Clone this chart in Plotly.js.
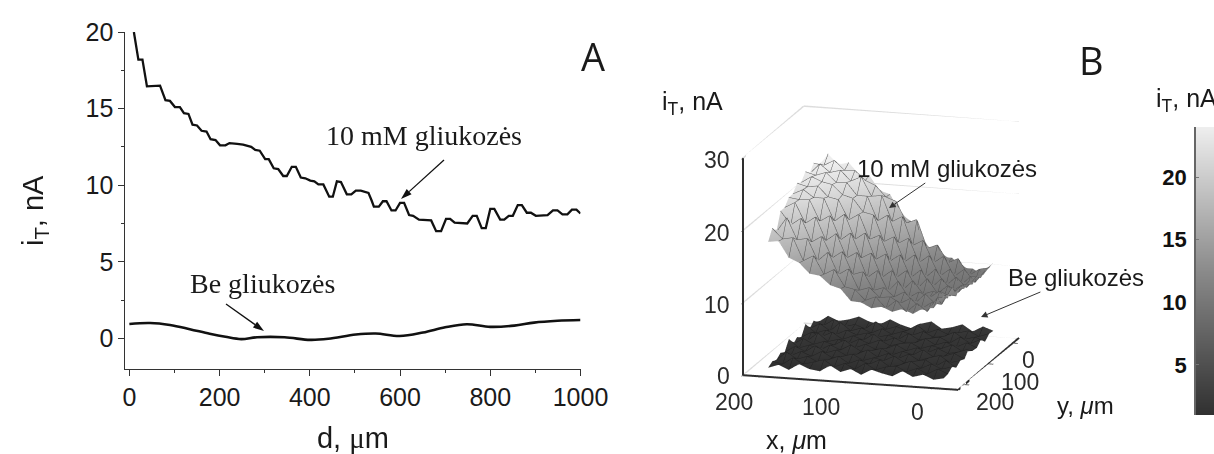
<!DOCTYPE html>
<html>
<head>
<meta charset="utf-8">
<script src="https://cdn.plot.ly/plotly-3.0.1.min.js"></script>
<style>html,body{margin:0;padding:0;background:#fff;overflow:hidden}</style>
</head>
<body>
<div id="chart" style="width:1214px;height:454px"></div>
<script>
// Panel A: line scan
const dGlucose = [10,20,29,39,68,80,90,101,112,121,131,140,150,160,171,180,191,201,213,222,239,252,270,279,289,301,309,320,330,341,349,360,369,380,390,401,410,419,430,443,451,460,469,482,492,502,513,524,530,537,542,553,562,570,581,590,600,609,620,629,642,669,680,691,702,711,721,749,761,770,781,790,800,809,822,831,841,850,861,870,881,890,901,927,939,949,960,971,981,991,1000];
const iGlucose = [20,18.2,18.2,16.45,16.5,15.55,15.5,15.1,15.1,14.7,14.65,13.95,13.9,13.55,13.5,13,12.95,12.6,12.6,12.75,12.7,12.65,12.5,12.3,12.25,11.7,11.7,11.1,11.05,10.6,10.6,11.2,11.2,10.5,10.45,10.3,10.25,10.05,10.05,9.25,9.25,10.25,10.2,9.4,9.4,9.65,9.65,9.55,9.5,9,8.6,8.6,8.95,8.95,8.35,8.35,8.85,8.85,8.05,8,7.75,7.7,7,7,7.8,7.8,7.55,7.5,8,8,7.2,7.2,8.45,8.45,7.75,7.75,8,8,8.7,8.7,8.2,8.2,8,8.05,8.35,8.35,8.1,8.1,8.4,8.4,8.15];
const dBlank = [0,46,90,134,178,213,248,283,344,401,441,502,546,599,651,700,748,800,853,897,949,1000];
const iBlank = [0.94,1,0.87,0.6,0.3,0.1,-0.05,0.07,0.07,-0.1,-0.03,0.25,0.32,0.15,0.38,0.72,0.92,0.75,0.83,1.03,1.15,1.2];

// Panel B: surfaces, rows run front to back, columns left to right
const xGrid = [195,183,171,159,147,135,123,111,99,87,75,63,51,39,27,15,3,-9];
const yGrid = [210,193,176,159,142,125,108,91,74,57,40,23,6];
const zGlucose = [
 [18.2,18.4,16.2,15.6,14.2,14.0,12.8,12.4,10.8,10.7,10.0,10.3,9.7,10.2,9.6,10.5,10.6,12.4],
 [19.6,18.2,18.5,15.4,16.2,13.7,14.5,12.2,11.9,10.5,11.1,9.6,10.8,9.3,10.6,9.5,11.6,11.6],
 [18.6,20.7,17.7,18.0,15.0,16.3,13.3,14.2,11.3,11.8,10.5,10.7,9.9,10.7,9.3,10.3,10.1,12.6],
 [21.0,19.2,20.2,17.0,17.9,15.0,16.0,12.9,13.4,10.9,11.4,10.2,11.0,9.5,10.9,9.6,11.0,10.9],
 [21.0,21.8,19.0,20.0,16.8,17.9,14.6,15.5,12.1,13.2,10.4,11.9,9.7,10.6,9.9,10.9,10.3,11.7],
 [21.9,21.7,21.8,18.9,19.8,16.5,17.6,14.2,15.0,11.7,12.8,10.1,11.6,9.8,10.3,9.6,10.6,11.0],
 [21.9,22.6,21.6,21.6,18.5,19.6,16.2,17.2,13.6,14.5,11.3,12.4,9.9,11.5,9.5,10.7,9.8,11.4],
 [22.9,22.5,22.7,21.3,21.0,18.3,19.2,15.8,16.5,13.0,14.0,10.9,12.1,9.7,11.1,9.4,10.4,10.6],
 [22.5,23.4,22.8,22.5,21.2,20.8,19.0,18.7,15.1,15.9,12.5,13.6,10.5,11.8,9.6,10.9,9.5,11.2],
 [23.5,23.1,23.6,22.3,22.4,20.7,20.7,17.4,18.3,14.5,15.3,12.0,13.1,10.3,11.4,9.2,10.6,10.5],
 [22.7,24.2,23.1,23.5,22.1,22.8,20.2,20.4,16.9,17.7,13.8,14.6,11.6,12.6,9.9,11.0,9.2,11.0],
 [23.7,23.5,24.3,23.0,23.1,21.8,21.2,19.7,19.2,16.3,16.9,13.0,13.6,11.2,11.9,9.6,10.6,10.9],
 [22.6,24.6,23.2,23.6,22.0,22.0,20.0,19.6,17.0,16.1,12.6,12.6,11.4,11.4,10.1,10.1,9.3,11.2]
];
const zBlank = [
 [0.8,1.3,0.7,1.6,1.0,0.8,1.7,0.9,1.4,0.7,1.5,1.1,0.8,1.6,0.9,1.3,0.7,1.0],
 [1.2,0.9,1.9,1.1,1.5,1.9,1.0,1.6,0.9,1.8,1.0,1.5,1.7,1.0,1.6,0.9,1.7,1.1],
 [0.9,2.1,1.2,1.7,1.0,1.4,2.0,1.1,1.7,1.2,1.9,1.0,1.4,2.0,1.1,1.8,1.2,1.6],
 [1.4,1.1,1.8,1.2,2.0,1.2,1.5,1.9,1.1,1.6,1.3,2.0,1.2,1.5,1.8,1.0,1.9,1.0],
 [1.0,1.9,1.3,2.2,1.3,1.8,1.1,1.4,2.1,1.2,1.8,1.2,1.9,1.1,1.6,2.0,1.1,1.5],
 [2.3,1.2,1.7,1.1,1.9,1.3,2.1,1.3,1.5,1.9,1.1,1.7,1.3,2.1,1.2,1.4,1.9,1.2],
 [1.1,2.0,1.3,1.8,1.4,2.2,1.2,1.8,1.2,1.4,2.0,1.3,1.8,1.2,1.9,1.3,1.6,2.1],
 [1.6,1.2,2.4,1.3,1.7,1.2,1.9,1.4,2.0,1.3,1.7,1.9,1.2,1.7,1.4,2.0,1.2,1.4],
 [1.1,1.9,1.4,2.1,1.2,1.8,1.3,2.2,1.3,1.9,1.3,1.4,2.1,1.3,1.8,1.2,1.9,1.3],
 [2.4,1.3,1.8,1.3,2.0,1.4,1.8,1.3,1.7,1.2,2.1,1.3,1.6,1.9,1.2,2.1,1.3,2.0],
 [1.3,2.1,1.2,2.5,1.4,1.9,1.3,2.0,1.3,1.8,1.4,2.0,1.3,1.5,2.2,1.3,1.7,1.2],
 [1.9,1.4,2.3,1.4,1.8,1.3,2.4,1.4,1.9,1.4,2.3,1.3,1.9,1.3,1.6,2.0,1.3,1.8],
 [1.2,2.2,1.6,1.9,2.4,1.8,1.5,2.3,1.7,1.3,2.0,2.4,1.5,1.8,2.3,1.4,2.2,1.7]
];
const xRange = [-30,220], yRange = [-25,225], zRange = [0,30];
const zGridLevels = [0,10,20,30];
const xTicks3d = [200,100,0], yTicks3d = [200,100,0], zTicks3d = [30,20,10,0];

// Colour scale reference values for the scale strip
const scaleLevels = [1,4,7,10,13,16,19,22,24];
const scaleEdge = [0,1];
const grayRamp = [[0,'#303030'],[0.5,'#8a8a8a'],[1,'#eeeeee']];

const W = 1214, H = 454;
const px = v => v / W, py = v => 1 - v / H;
const SANS = 'Liberation Sans, Arial, sans-serif';
const SERIF = 'Liberation Serif, Times New Roman, serif';
const INK = '#1a1a1a';

const surfCommon = {
  type:'surface', x:xGrid, y:yGrid, colorscale:grayRamp, cmin:1, cmax:24, showscale:false,
  lighting:{ambient:1,diffuse:0,specular:0,roughness:1,fresnel:0},
  hoverinfo:'skip'
};
const mesh = c => ({
  x:{show:true,start:-9,end:195,size:12,color:c,width:1},
  y:{show:true,start:6,end:210,size:17,color:c,width:1},
  z:{show:false}
});
const line3d = (x,y,z,color,width) => ({type:'scatter3d',mode:'lines',x,y,z,line:{color,width},hoverinfo:'skip',showlegend:false});

const [x0,x1] = xRange, [y0,y1] = yRange, [z0,z1] = zRange;
const traces = [
  {type:'scatter',mode:'lines',x:dGlucose,y:iGlucose,xaxis:'x',yaxis:'y',line:{color:'#111',width:2.3},hoverinfo:'skip'},
  {type:'scatter',mode:'lines',x:dBlank,y:iBlank,xaxis:'x',yaxis:'y',line:{color:'#111',width:2.6,shape:'spline'},hoverinfo:'skip'},
  ...zGridLevels.map(z=>line3d([x1,x1,x0],[y1,y0,y0],[z,z,z],'#dcdcdc',3)),
  line3d([x1,x1],[y1,y1],[z0,z1],'#2e2e2e',4),
  line3d([x1,x0],[y1,y1],[z0,z0],'#2e2e2e',4),
  line3d([x0,x0],[y1,y0],[z0,z0],'#2e2e2e',4),
  Object.assign({z:zGlucose,contours:mesh('#555555')},surfCommon),
  Object.assign({z:zBlank,contours:mesh('#222222')},surfCommon),
  {type:'heatmap',x:scaleEdge,y:scaleLevels,z:scaleLevels.map(v=>[v,v]),xaxis:'x2',yaxis:'y2',
   colorscale:grayRamp,zmin:1,zmax:24,showscale:false,zsmooth:'best',hoverinfo:'skip'}
];

const ann = (text,x,y,size,family,extra) => Object.assign({
  text,xref:'paper',yref:'paper',x:px(x),y:py(y),xanchor:'center',yanchor:'middle',
  showarrow:false,font:{size,family,color:INK}
},extra||{});
// label whose arrow tip sits at (tipX,tipY) on the paper
const pointer = (text,cx,cy,tipX,tipY,size,family) => ({
  text,xref:'paper',yref:'paper',x:px(tipX),y:py(tipY),axref:'pixel',ayref:'pixel',ax:cx-tipX,ay:cy-tipY,
  xanchor:'center',yanchor:'middle',showarrow:true,arrowhead:2,arrowsize:1.3,arrowwidth:1,arrowcolor:'#333',
  font:{size,family,color:INK}
});
// thin arrow line and filled head as paper shapes
const arrowShapes = (ax,ay,bx0,by0) => {
  const len = Math.hypot(bx0-ax,by0-ay), ux=(bx0-ax)/len, uy=(by0-ay)/len, hl=11, hw=3.6;
  const p = (x,y) => px(x)+','+py(y);
  const bx=bx0-ux*hl, by=by0-uy*hl;
  return [
    {type:'line',xref:'paper',yref:'paper',x0:px(ax),y0:py(ay),x1:px(bx),y1:py(by),line:{color:'#111',width:1.3}},
    {type:'path',xref:'paper',yref:'paper',fillcolor:'#111',line:{width:0},
     path:'M'+p(bx0,by0)+'L'+p(bx-uy*hw,by+ux*hw)+'L'+p(bx+uy*hw,by-ux*hw)+'Z'}
  ];
};

const axis3d = (range,tickvals) => ({
  range,tickmode:'array',tickvals,showticklabels:false,title:{text:''},
  showline:false,ticks:'outside',ticklen:5,tickwidth:2,tickcolor:'#333',
  showgrid:false,zeroline:false,showspikes:false,showbackground:false
});
const tick3d = (labels,xs,ys) => labels.map((t,i)=>ann(String(t),xs[i],ys[i],23,SANS,{font:{size:23,family:SANS,color:'#2a2a2a'}}));

const layout = {
  width:W,height:H,autosize:false,margin:{l:0,r:0,t:0,b:0},
  paper_bgcolor:'#fff',plot_bgcolor:'rgba(0,0,0,0)',showlegend:false,
  xaxis:{domain:[px(125.3),px(580.5)],anchor:'y',range:[-9,1000],tickmode:'array',tickvals:[0,200,400,600,800,1000],
    minor:{tickvals:[100,300,500,700,900],ticks:'outside',ticklen:3,tickcolor:'#333'},
    ticks:'outside',ticklen:6,tickcolor:'#333',showline:true,linecolor:'#333',linewidth:1,showgrid:false,zeroline:false,
    tickfont:{size:25,family:SANS,color:INK},
    title:{text:'d, <span style="font-family:Liberation Serif">μ</span>m',font:{size:29,family:SANS,color:INK},standoff:20}},
  yaxis:{domain:[py(369),py(32)],anchor:'x',range:[-2,20],tickmode:'array',tickvals:[0,5,10,15,20],
    minor:{tickvals:[2.5,7.5,12.5,17.5],ticks:'outside',ticklen:3,tickcolor:'#333'},
    ticks:'outside',ticklen:6,tickcolor:'#333',showline:true,linecolor:'#333',linewidth:1,showgrid:false,zeroline:false,
    tickfont:{size:25,family:SANS,color:INK}},
  xaxis2:{domain:[px(1196),1],anchor:'y2',range:[0,1],showticklabels:false,ticks:'',showgrid:false,zeroline:false,showline:false},
  yaxis2:{domain:[py(415),py(127)],anchor:'x2',range:[1,24],tickmode:'array',tickvals:[5,10,15,20],ticks:'inside',ticklen:3,tickcolor:'#777',ticklabelstandoff:3,
    showline:true,linecolor:'#666',linewidth:1.5,showgrid:false,zeroline:false,tickfont:{size:22,family:SANS,color:'#111',weight:'bold'}},
  scene:{
    domain:{x:[px(690),px(1072)],y:[py(440),py(56)]},
    aspectmode:'manual',aspectratio:{x:1.165,y:1.165,z:1.165},
    camera:{projection:{type:'orthographic'},center:{x:0,y:0,z:0},up:{x:0,y:0,z:1},
      eye:{x:-0.48,y:1.70,z:0.44}},
    xaxis:axis3d(xRange,[0,100,200]),
    yaxis:axis3d(yRange,[0,100,200]),
    zaxis:axis3d(zRange,[0,10,20,30]),
    bgcolor:'rgba(0,0,0,0)'
  },
  shapes:[].concat(arrowShapes(444,160,401,199),arrowShapes(226,304,264,331)),
  annotations:[
    ann('A',593,56,38,'Open Sans, '+SANS),
    ann('B',1091,60,38,'Open Sans, '+SANS),
    ann('i<sub>T</sub>, nA',35,211,29,SANS,{textangle:-90}),
    ann('10 mM gliukozės',424,135,28,SERIF),
    ann('Be gliukozės',262,283,28,SERIF),
    pointer('10 mM gliukozės',947,168,889,208,24,SANS),
    pointer('Be gliukozės',1076,277,981,317,24,SANS),
    ann('i<sub>T</sub>, nA',692,103,25,SANS),
    ann('i<sub>T</sub>, nA',1186,100,25,SANS),
    ann('x, <i>μ</i>m',796,440,25,SANS),
    ann('y, <i>μ</i>m',1085,405,24,SANS),
    ...tick3d(zTicks3d,[717,717,717,723],[160,233,305,376]),
    ...tick3d(xTicks3d,[734,821,918],[402,407,412]),
    ...tick3d(yTicks3d,[995,1020,1028],[402,382,360])
  ]
};

Plotly.newPlot('chart',traces,layout,{displayModeBar:false});
</script>
</body>
</html>
